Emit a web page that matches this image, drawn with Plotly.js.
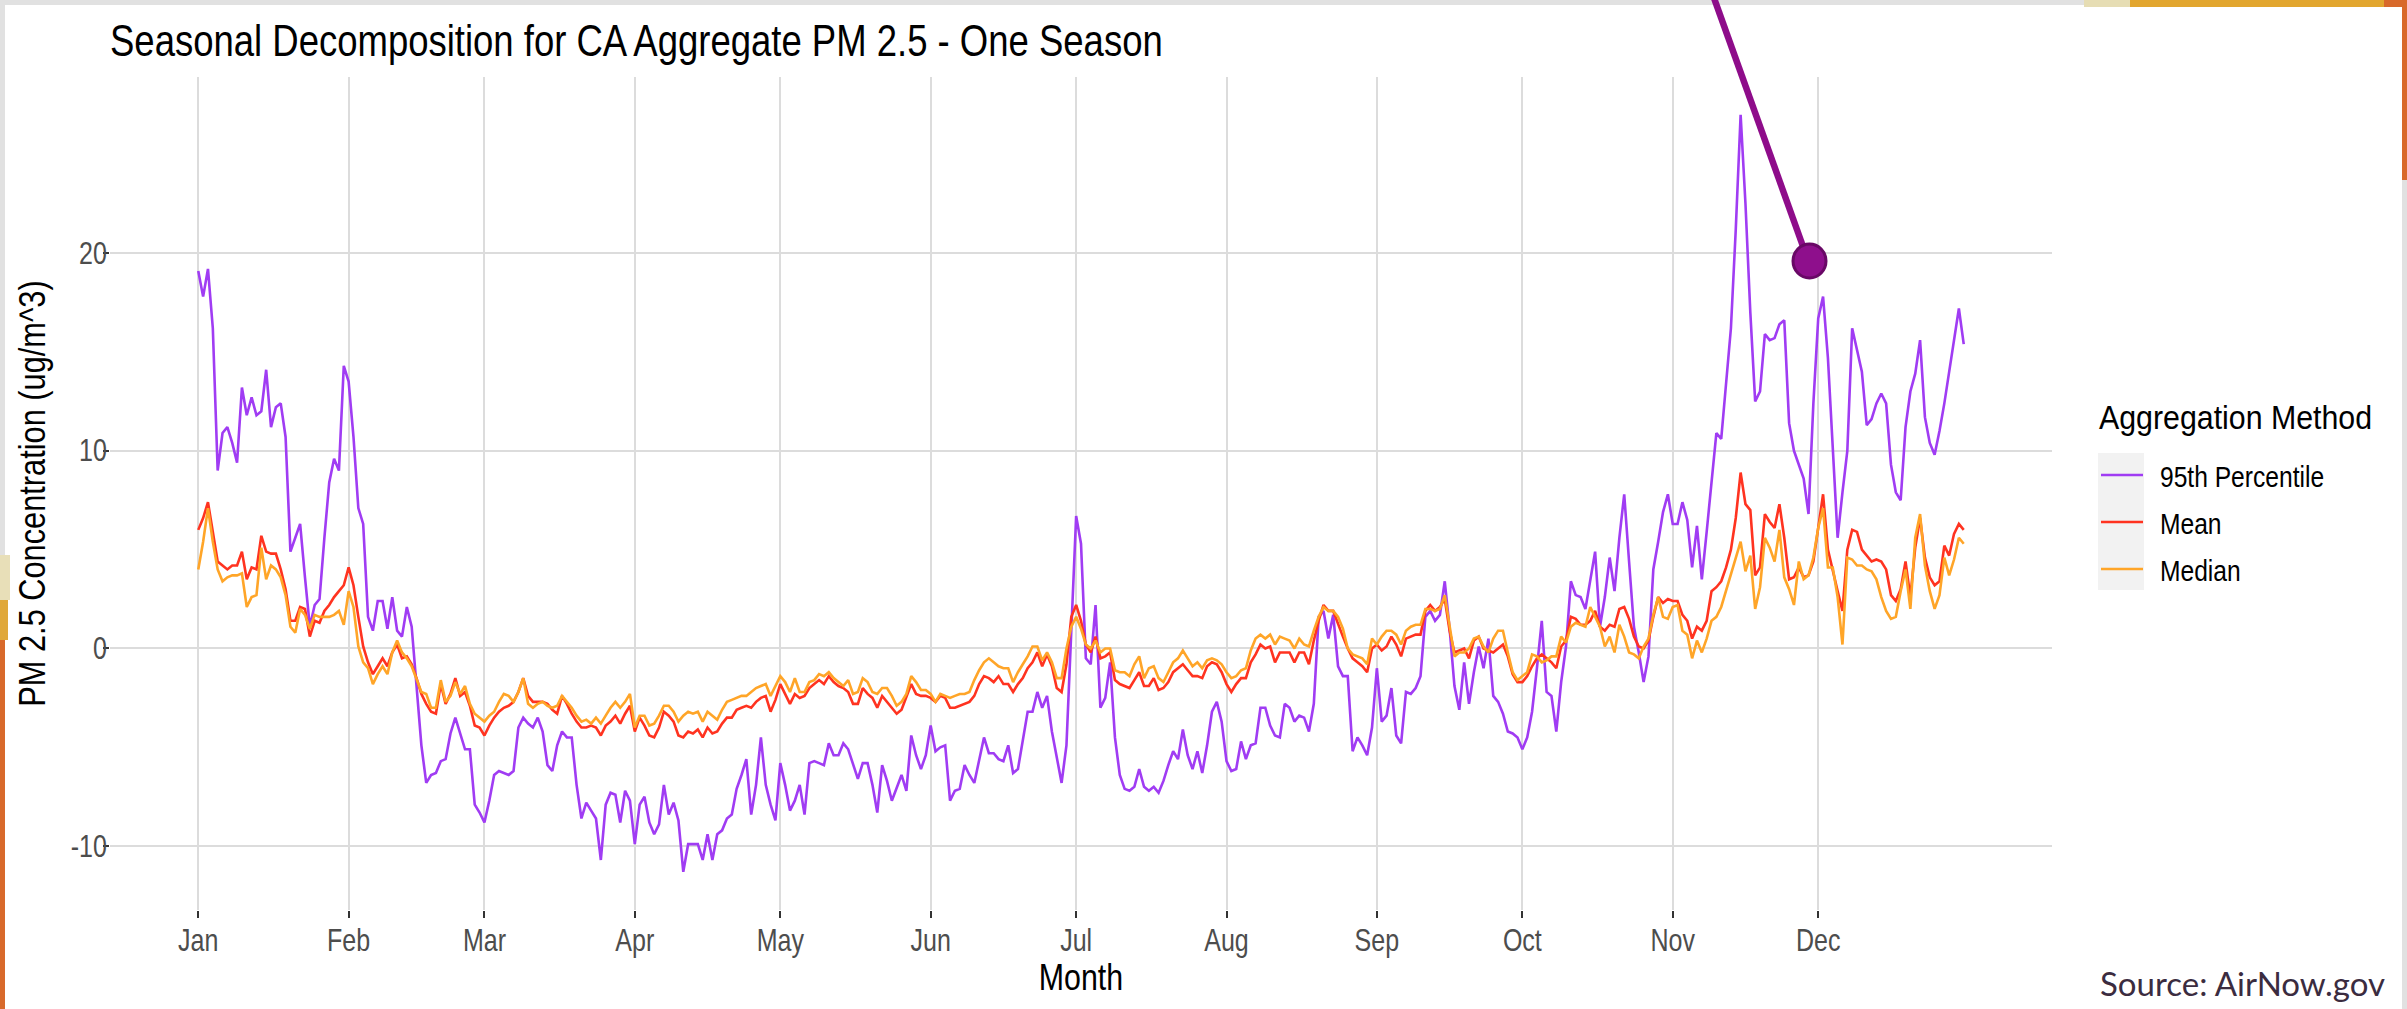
<!DOCTYPE html>
<html>
<head>
<meta charset="utf-8">
<script src="https://cdn.plot.ly/plotly-3.0.1.min.js"></script>
<style>
html,body{margin:0;padding:0;background:#ffffff;overflow:hidden;}
#chart{width:2407px;height:1009px;}
</style>
</head>
<body>
<div id="chart"></div>
<script>
// ---------------- data ----------------
const YEAR_START = [2019, 0, 1];
const monthTicks = ['2019-01-01','2019-02-01','2019-03-01','2019-04-01','2019-05-01','2019-06-01',
                    '2019-07-01','2019-08-01','2019-09-01','2019-10-01','2019-11-01','2019-12-01'];
const monthLabels = ['Jan','Feb','Mar','Apr','May','Jun','Jul','Aug','Sep','Oct','Nov','Dec'];
const yTickVals = [-10, 0, 10, 20];
const yTickText = ['-10', '0', '10', '20'];
const seriesNames = ['95th Percentile', 'Mean', 'Median'];

const p95 = [
 19.1, 17.8, 19.2, 16.2, 9.0, 10.9, 11.2, 10.4, 9.4, 13.2,
 11.8, 12.7, 11.8, 12.0, 14.1, 11.2, 12.2, 12.4, 10.7, 4.9,
 5.6, 6.3, 3.6, 1.1, 2.2, 2.5, 5.6, 8.4, 9.6, 9.0,
 14.3, 13.5, 10.7, 7.1, 6.3, 1.6, 0.9, 2.4, 2.4, 1.0,
 2.6, 0.9, 0.6, 2.1, 1.1, -1.9, -4.9, -6.8, -6.4, -6.3,
 -5.7, -5.6, -4.3, -3.5, -4.3, -5.1, -5.1, -7.9, -8.3, -8.8,
 -7.7, -6.4, -6.2, -6.3, -6.4, -6.2, -4.0, -3.5, -3.8, -4.0,
 -3.5, -4.2, -5.9, -6.2, -4.9, -4.2, -4.5, -4.5, -6.9, -8.6,
 -7.8, -8.2, -8.6, -10.7, -7.9, -7.3, -7.4, -8.8, -7.2, -7.7,
 -9.9, -7.9, -7.5, -8.8, -9.4, -8.9, -6.9, -8.4, -7.8, -8.7,
 -11.3, -9.9, -9.9, -9.9, -10.7, -9.4, -10.7, -9.4, -9.2, -8.6,
 -8.4, -7.1, -6.4, -5.6, -8.4, -6.9, -4.5, -6.9, -7.9, -8.7,
 -5.8, -6.9, -8.2, -7.7, -6.9, -8.4, -5.8, -5.7, -5.8, -5.9,
 -4.8, -5.4, -5.4, -4.8, -5.1, -5.9, -6.6, -5.8, -5.8, -6.9,
 -8.3, -5.9, -6.7, -7.7, -7.1, -6.4, -7.2, -4.4, -5.4, -6.1,
 -5.4, -3.9, -5.2, -5.0, -4.9, -7.7, -7.2, -7.1, -5.9, -6.4,
 -6.8, -5.7, -4.5, -5.3, -5.3, -5.6, -5.7, -4.9, -6.3, -6.1,
 -4.7, -3.2, -3.2, -2.2, -3.0, -2.4, -4.2, -5.6, -6.8, -4.9,
 1.1, 6.7, 5.3, -0.5, -0.8, 2.2, -3.0, -2.5, -0.7, -4.5,
 -6.4, -7.1, -7.2, -7.0, -6.1, -7.0, -7.2, -7.0, -7.3, -6.7,
 -5.9, -5.2, -5.6, -4.1, -5.4, -6.1, -5.2, -6.3, -4.9, -3.2,
 -2.7, -3.7, -5.7, -6.2, -6.1, -4.7, -5.6, -4.9, -4.8, -3.0,
 -3.0, -3.9, -4.4, -4.5, -2.8, -3.0, -3.7, -3.4, -3.5, -4.2,
 -2.8, 1.6, 1.9, 0.5, 1.7, -0.9, -1.4, -1.4, -5.2, -4.5,
 -4.9, -5.4, -4.0, -1.0, -3.7, -3.4, -2.0, -4.4, -4.8, -2.2,
 -2.3, -2.0, -1.4, 1.6, 1.9, 1.4, 1.7, 3.4, 1.0, -1.9,
 -3.1, -0.7, -2.8, -1.2, 0.1, -1.0, 0.5, -2.4, -2.7, -3.3,
 -4.2, -4.3, -4.5, -5.1, -4.5, -3.2, -1.0, 1.4, -2.2, -2.4,
 -4.2, -1.7, 0.1, 3.4, 2.7, 2.6, 2.0, 3.5, 4.9, 1.1,
 2.6, 4.6, 2.9, 5.6, 7.8, 4.4, 1.1, -0.2, -1.7, -0.4,
 4.0, 5.4, 6.9, 7.8, 6.3, 6.3, 7.4, 6.5, 4.1, 6.2,
 3.5, 5.9, 8.5, 10.9, 10.6, 13.4, 16.2, 21.2, 27.0, 22.5,
 17.0, 12.5, 13.0, 15.9, 15.6, 15.7, 16.4, 16.6, 11.4, 10.0,
 9.3, 8.6, 6.8, 12.4, 16.7, 17.8, 14.7, 10.2, 5.6, 7.9,
 10.0, 16.2, 15.1, 14.0, 11.3, 11.6, 12.4, 12.9, 12.4, 9.3,
 7.9, 7.5, 11.2, 13.0, 13.9, 15.6, 11.7, 10.4, 9.8, 11.0,
 12.4, 14.0, 15.8, 17.2, 15.4
];

const meanConc = [
 6.0, 6.6, 7.4, 5.9, 4.4, 4.2, 4.0, 4.2, 4.2, 4.9,
 3.5, 4.1, 4.0, 5.7, 4.9, 4.8, 4.8, 4.0, 3.0, 1.4,
 1.4, 2.1, 2.0, 0.6, 1.4, 1.3, 1.9, 2.2, 2.6, 2.9,
 3.2, 4.1, 3.2, 1.6, 0.1, -0.7, -1.3, -0.9, -0.5, -0.9,
 -0.2, 0.2, -0.5, -0.4, -0.8, -1.5, -2.3, -2.8, -3.2, -3.3,
 -1.8, -2.8, -2.3, -1.5, -2.4, -2.2, -2.9, -3.9, -4.0, -4.4,
 -3.9, -3.5, -3.2, -3.0, -2.9, -2.7, -2.2, -1.5, -2.4, -2.7,
 -2.7, -2.7, -2.8, -3.1, -3.3, -2.4, -2.8, -3.3, -3.7, -4.0,
 -4.0, -3.9, -4.0, -4.4, -3.9, -3.7, -3.4, -3.8, -3.3, -2.9,
 -4.2, -3.5, -3.9, -4.4, -4.5, -4.0, -3.2, -3.4, -3.7, -4.4,
 -4.5, -4.2, -4.3, -4.1, -4.5, -4.0, -4.3, -4.2, -3.8, -3.5,
 -3.5, -3.1, -3.0, -2.9, -3.0, -2.7, -2.5, -2.4, -3.2, -2.6,
 -1.8, -2.3, -2.8, -2.3, -2.5, -2.4, -2.0, -1.8, -1.6, -1.8,
 -1.4, -1.7, -1.9, -2.0, -2.2, -2.8, -2.8, -2.0, -2.3, -2.5,
 -3.0, -2.4, -2.7, -3.0, -3.3, -3.1, -2.5, -1.8, -2.3, -2.4,
 -2.4, -2.5, -2.7, -2.4, -2.5, -3.0, -3.0, -2.9, -2.8, -2.7,
 -2.4, -1.8, -1.4, -1.5, -1.7, -1.4, -1.8, -1.8, -2.2, -1.8,
 -1.5, -1.0, -0.7, -0.2, -0.9, -0.3, -0.9, -2.0, -2.2, -0.8,
 1.6, 2.2, 1.4, 0.2, -0.2, 0.6, -0.5, -0.4, -0.2, -1.6,
 -1.8, -1.9, -2.0, -1.6, -1.2, -1.9, -1.9, -1.5, -2.1, -2.0,
 -1.7, -1.2, -1.0, -0.8, -1.1, -1.4, -1.4, -1.5, -0.9, -0.7,
 -0.8, -1.2, -1.8, -2.2, -1.8, -1.5, -1.5, -0.7, -0.3, 0.2,
 0.0, 0.1, -0.7, -0.2, -0.2, -0.2, -0.7, -0.2, -0.2, -0.8,
 0.4, 1.4, 2.2, 1.9, 1.9, 1.2, 0.6, 0.0, -0.5, -0.7,
 -0.9, -1.2, 0.0, 0.2, -0.1, 0.1, 0.6, 0.2, -0.4, 0.5,
 0.6, 0.7, 0.7, 1.9, 2.2, 1.9, 2.1, 2.5, 0.9, -0.2,
 -0.1, 0.0, -0.5, 0.4, 0.6, 0.0, -0.1, -0.2, 0.0, 0.2,
 -0.4, -1.3, -1.7, -1.7, -1.4, -0.9, -0.5, -0.3, -0.5, -0.7,
 -1.0, 0.1, 0.4, 1.6, 1.5, 1.2, 1.2, 1.4, 1.9, 1.1,
 0.9, 1.2, 1.1, 2.0, 2.1, 1.5, 0.6, 0.1, 0.0, 0.4,
 1.6, 2.6, 2.3, 2.5, 2.4, 2.4, 1.7, 1.4, 0.5, 1.1,
 0.9, 1.4, 2.9, 3.1, 3.4, 4.1, 5.0, 6.6, 8.9, 7.3,
 7.0, 3.7, 4.1, 6.8, 6.4, 6.1, 7.3, 5.6, 3.5, 3.6,
 4.1, 3.6, 3.7, 4.4, 6.1, 7.8, 5.0, 3.9, 2.9, 1.9,
 5.0, 6.0, 5.9, 5.0, 4.7, 4.4, 4.5, 4.4, 4.0, 2.7,
 2.4, 3.0, 4.4, 2.6, 5.1, 6.6, 4.6, 3.6, 3.2, 3.4,
 5.2, 4.7, 5.8, 6.3, 6.0
];

const medianConc = [
 4.0, 5.4, 7.1, 5.4, 4.0, 3.4, 3.6, 3.7, 3.7, 3.8,
 2.1, 2.6, 2.7, 5.1, 3.5, 4.2, 4.0, 3.6, 2.7, 1.1,
 0.8, 2.0, 1.7, 1.0, 1.7, 1.6, 1.6, 1.6, 1.7, 1.9,
 1.2, 2.9, 2.1, 0.1, -0.7, -1.0, -1.8, -1.3, -0.9, -1.3,
 -0.2, 0.4, -0.2, -0.5, -0.9, -1.5, -2.2, -2.3, -3.0, -3.0,
 -1.6, -2.7, -2.4, -1.7, -2.3, -1.9, -2.8, -3.3, -3.5, -3.7,
 -3.4, -3.2, -2.7, -2.3, -2.4, -2.7, -2.2, -1.5, -2.8, -3.0,
 -2.8, -2.7, -2.9, -3.0, -2.9, -2.4, -2.7, -3.0, -3.4, -3.7,
 -3.6, -3.8, -3.5, -3.8, -3.4, -3.0, -2.7, -3.0, -2.7, -2.3,
 -4.0, -3.4, -3.4, -3.9, -3.8, -3.4, -2.9, -2.9, -3.2, -3.7,
 -3.4, -3.2, -3.3, -3.2, -3.7, -3.2, -3.4, -3.6, -3.1, -2.7,
 -2.6, -2.5, -2.4, -2.4, -2.2, -2.0, -1.9, -1.8, -2.4, -1.9,
 -1.4, -1.7, -2.2, -1.5, -2.2, -2.2, -1.7, -1.6, -1.3, -1.4,
 -1.2, -1.5, -1.7, -1.9, -1.6, -2.3, -2.2, -1.5, -1.7, -2.2,
 -2.3, -2.0, -2.0, -2.4, -2.9, -2.7, -2.3, -1.4, -1.7, -2.1,
 -2.1, -2.3, -2.7, -2.3, -2.4, -2.5, -2.4, -2.3, -2.3, -2.2,
 -1.6, -1.1, -0.7, -0.5, -0.7, -0.9, -1.0, -1.0, -1.7, -1.2,
 -0.8, -0.4, 0.1, 0.1, -0.6, -0.2, -0.7, -1.5, -1.5, 0.0,
 1.1, 1.6, 1.0, 0.2, 0.0, 0.4, -0.2, 0.0, 0.0, -1.1,
 -1.2, -1.2, -1.4, -0.8, -0.4, -1.5, -1.0, -0.9, -1.5, -1.7,
 -1.2, -0.7, -0.5, -0.1, -0.5, -0.9, -0.7, -1.0, -0.6, -0.5,
 -0.6, -0.8, -1.2, -1.5, -1.4, -1.1, -1.0, -0.1, 0.5, 0.7,
 0.5, 0.7, 0.2, 0.6, 0.5, 0.4, 0.0, 0.5, 0.2, 0.1,
 0.9, 1.6, 2.1, 1.9, 1.9, 1.6, 1.0, 0.0, -0.3, -0.4,
 -0.5, -0.8, 0.5, 0.2, 0.6, 0.9, 0.9, 0.7, 0.2, 0.9,
 1.1, 1.2, 1.2, 2.0, 2.0, 1.9, 2.0, 2.7, 1.1, -0.4,
 -0.2, -0.2, 0.0, 0.5, 0.6, 0.1, -0.2, 0.5, 0.9, 0.9,
 -0.2, -1.2, -1.6, -1.4, -1.2, -0.3, -0.4, -0.7, -0.6, -0.4,
 -0.4, 0.6, 0.3, 1.1, 1.3, 1.2, 1.1, 2.1, 1.6, 1.1,
 0.1, 0.6, -0.2, 1.2, 0.6, -0.2, -0.3, -0.5, 0.1, 0.5,
 1.7, 2.6, 1.6, 1.5, 2.1, 2.2, 0.9, 0.7, -0.5, 0.4,
 -0.2, 0.5, 1.4, 1.6, 2.1, 2.9, 3.7, 4.6, 5.4, 3.9,
 4.7, 2.0, 3.1, 5.6, 5.1, 4.4, 6.0, 3.6, 3.0, 2.2,
 4.4, 3.5, 3.7, 4.6, 6.1, 7.1, 4.1, 4.1, 2.6, 0.2,
 4.6, 4.5, 4.2, 4.2, 4.0, 3.9, 3.5, 2.6, 1.9, 1.5,
 1.6, 2.9, 4.0, 2.0, 5.6, 6.8, 4.2, 2.9, 2.0, 2.7,
 4.6, 3.7, 4.5, 5.6, 5.3
];

// one date per daily value
const DAY_MS = 86400000;
const startMs = Date.UTC(YEAR_START[0], YEAR_START[1], YEAR_START[2]);
const dates = p95.map((_, i) => new Date(startMs + i * DAY_MS).toISOString().slice(0, 10));

// ---------------- layout geometry (pixels) ----------------
const W = 2407, H = 1009;
const PL = 110, PR = 2052, PT = 77, PB = 910;
const px = v => (v - PL) / (PR - PL);
const py = v => (PB - v) / (PB - PT);

const SANS = '"Liberation Sans", Arial, Helvetica, sans-serif';
const SQUEEZE = 0.82;          // horizontally condensed lettering as in the original
const LEGEND_HEAD = 'Aggregation Method';
const SQUEEZE_HEAD = 0.905;
const colors = ['#A03CF3', '#FF3320', '#FFA528'];
const seriesValues = [p95, meanConc, medianConc];

const traces = seriesNames.map((name, k) => ({
  type: 'scatter', mode: 'lines', name: name,
  legendgroup: 'g' + k,
  x: dates, y: seriesValues[k],
  line: { color: colors[k], width: 2.6 },
  hoverinfo: 'skip'
}));

const xRange = [startMs - 18.2 * DAY_MS, startMs + 382.2 * DAY_MS];

const rect = (x0, y0, x1, y1, color, layer) => ({
  type: 'rect', xref: 'paper', yref: 'paper',
  x0: px(x0), x1: px(x1), y0: py(y0), y1: py(y1),
  fillcolor: color, line: { width: 0 }, layer: layer || 'above'
});

const layout = {
  width: W, height: H,
  margin: { l: PL, r: W - PR, t: PT, b: H - PB, pad: 0, autoexpand: false },
  paper_bgcolor: '#ffffff', plot_bgcolor: '#ffffff',
  font: { family: SANS, color: '#000000', size: 30 },
  hovermode: false,
  showlegend: true,
  title: {
    text: 'Seasonal Decomposition for CA Aggregate PM 2.5 - One Season',
    font: { family: SANS, size: 44.5, color: '#000000' },
    xref: 'paper', x: 0, xanchor: 'left',
    yref: 'container', y: 1 - 40 / H, yanchor: 'middle'
  },
  xaxis: {
    type: 'date', range: xRange, autorange: false,
    tickmode: 'array', tickvals: monthTicks, ticktext: monthLabels,
    showgrid: true, gridcolor: '#DCDCDC', gridwidth: 2,
    zeroline: false, showline: false,
    ticks: 'outside', ticklen: 7, tickwidth: 2, tickcolor: '#333333',
    ticklabelstandoff: -4,
    tickfont: { family: SANS, size: 30.5, color: '#4D4D4D' },
    title: { text: 'Month', font: { family: SANS, size: 37, color: '#000000' }, standoff: 6 },
    automargin: false, fixedrange: true
  },
  yaxis: {
    range: [-13.23, 28.91], autorange: false,
    tickmode: 'array', tickvals: yTickVals, ticktext: yTickText,
    showgrid: true, gridcolor: '#DCDCDC', gridwidth: 2,
    zeroline: false, showline: false,
    ticks: 'outside', ticklen: 6, tickwidth: 2, tickcolor: '#333333',
    ticklabelstandoff: -10,
    tickfont: { family: SANS, size: 30.5, color: '#4D4D4D' },
    title: { text: 'PM 2.5 Concentration (ug/m^3)', font: { family: SANS, size: 37.5, color: '#000000' }, standoff: 5 },
    automargin: false, fixedrange: true
  },
  legend: {
    x: px(2096), xanchor: 'left', y: py(449), yanchor: 'top',
    bgcolor: 'rgba(0,0,0,0)', borderwidth: 0,
    font: { family: SANS, size: 30, color: '#000000' },
    itemwidth: 42, traceorder: 'grouped', tracegroupgap: 5
  },
  shapes: [
    // legend key background
    rect(2098, 453, 2144, 590, '#F2F2F2', 'below'),
    // slide decorations
    rect(0, 0, 2084, 5, '#E1E1E1'),
    rect(2084, 0, 2130, 7, '#E6DDB4'),
    rect(2130, 0, 2384, 7, '#E2A62F'),
    rect(2384, 0, 2407, 7, '#D8692B'),
    rect(2402, 0, 2407, 180, '#D8692B'),
    rect(2402, 180, 2407, 1009, '#E1E1E1'),
    rect(0, 0, 5, 555, '#E1E1E1'),
    rect(0, 555, 10, 600, '#E8DFB8'),
    rect(0, 600, 8, 640, '#E0A83A'),
    rect(0, 640, 5, 1009, '#D8692B'),
    // callout pointer
    { type: 'line', xref: 'paper', yref: 'paper',
      x0: px(1714), y0: py(-2), x1: px(1805), y1: py(252),
      line: { color: '#8E0C8A', width: 6.5 }, layer: 'above' },
    { type: 'circle', xref: 'paper', yref: 'paper',
      x0: px(1793), x1: px(1826), y0: py(244), y1: py(278),
      fillcolor: '#8E0F8C', line: { color: '#690866', width: 3 }, layer: 'above' }
  ],
  annotations: [
    // legend heading
    { text: LEGEND_HEAD, xref: 'paper', yref: 'paper',
      x: px(2097), xanchor: 'left', y: py(417), yanchor: 'middle', align: 'left',
      showarrow: false, font: { family: SANS, size: 33.5, color: '#000000' } },
    { text: 'Source: AirNow.gov', xref: 'paper', yref: 'paper',
      x: px(2387), xanchor: 'right', y: py(983), yanchor: 'middle',
      showarrow: false, font: { family: 'Lato, "Open Sans", sans-serif', size: 33, color: '#3B2C40' } }
  ]
};

Plotly.newPlot('chart', traces, layout, { displayModeBar: false, staticPlot: true }).then(gd => {
  // condense the chart lettering horizontally (keeps height, narrows glyphs)
  gd.querySelectorAll('svg text').forEach(t => {
    const fam = (t.style.fontFamily || '') + (t.getAttribute('font-family') || '');
    if (fam.indexOf('Lato') !== -1) return;
    const len = t.getComputedTextLength();
    if (len > 0) {
      const f = (t.textContent === LEGEND_HEAD) ? SQUEEZE_HEAD : SQUEEZE;
      t.setAttribute('textLength', (len * f).toFixed(2));
      t.setAttribute('lengthAdjust', 'spacingAndGlyphs');
    }
  });
  // legend entry labels sit a little further from their key than plotly's default
  gd.querySelectorAll('.legendtext').forEach(t => {
    t.setAttribute('x', (parseFloat(t.getAttribute('x')) || 0) + 12);
  });
});
</script>
</body>
</html>
